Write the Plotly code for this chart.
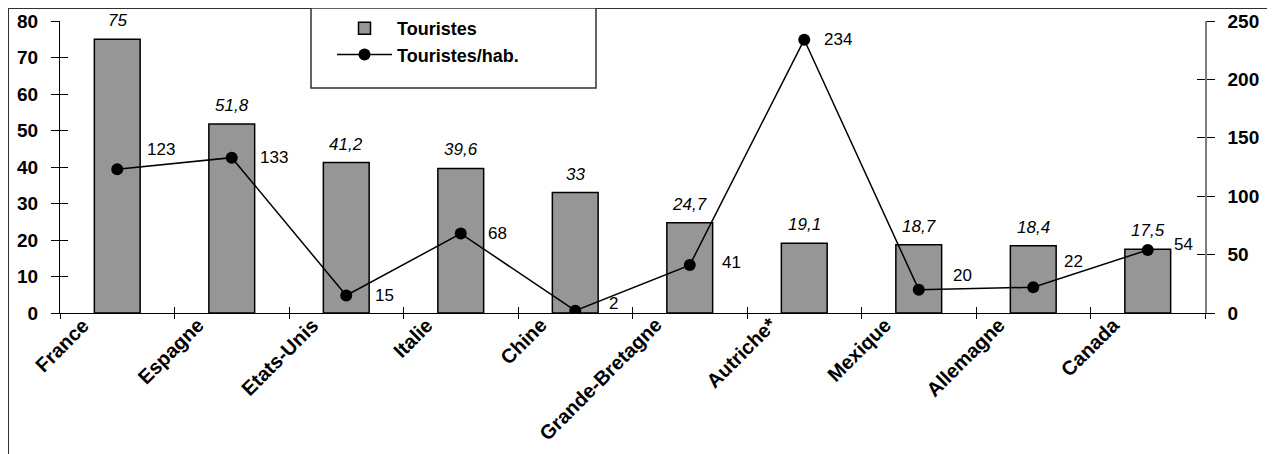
import plotly.graph_objects as go

# ---------------- data ----------------
countries = ["France", "Espagne", "Etats-Unis", "Italie", "Chine",
             "Grande-Bretagne", "Autriche*", "Mexique", "Allemagne", "Canada"]
touristes = [75, 51.8, 41.2, 39.6, 33, 24.7, 19.1, 18.7, 18.4, 17.5]
touristes_hab = [123, 133, 15, 68, 2, 41, 234, 20, 22, 54]
left_ticks = [0, 10, 20, 30, 40, 50, 60, 70, 80]
right_ticks = [0, 50, 100, 150, 200, 250]

# ---------------- styling (label offsets in px) ----------------
label_dx = [30, 28, 29, 27, 34, 32, 20, 34, 31, 26]
label_dy = [-20, 0, 0, 0, -7, -3, 0, -14, -26, -5]

FONT = "Arial, Liberation Sans, sans-serif"
OFF = 8                      # page body margin in the browser
W, H = 1275 - OFF, 454 - OFF
ML, MR = 60 - OFF, 70
MT = 21 - OFF
MB = H - (313 - OFF)
PW = W - ML - MR
PH = H - MT - MB


def px_x(p):
    """screen px -> paper x"""
    return (p - OFF - ML) / PW


def px_y(p):
    """screen px -> paper y"""
    return 1 - (p - OFF - MT) / PH


def fmt(v):
    return f"{v:g}".replace(".", ",")


fig = go.Figure()
fig.add_trace(go.Bar(
    x=countries, y=touristes, name="Touristes", width=0.4,
    marker=dict(color="#969696", line=dict(color="black", width=1.5)),
    yaxis="y",
))
fig.add_trace(go.Scatter(
    x=countries, y=touristes_hab, name="Touristes/hab.", yaxis="y2",
    mode="lines+markers",
    line=dict(color="black", width=1.5),
    marker=dict(color="black", size=12),
))
# invisible helper traces so the overlay axes (inner half of crossing ticks) are drawn
fig.add_trace(go.Scatter(x=countries, y=touristes, xaxis="x2", yaxis="y3",
                         mode="none", showlegend=False, hoverinfo="skip"))
fig.add_trace(go.Scatter(x=countries, y=touristes_hab, xaxis="x2", yaxis="y4",
                         mode="none", showlegend=False, hoverinfo="skip"))

annotations = []
# bar value labels
for c, v in zip(countries, touristes):
    annotations.append(dict(
        x=c, y=v, xref="x", yref="y", text=fmt(v), showarrow=False,
        xanchor="center", yanchor="bottom", yshift=7,
        font=dict(family=FONT, size=17, color="black", style="italic"),
    ))
# line value labels
for c, v, dx, dy in zip(countries, touristes_hab, label_dx, label_dy):
    annotations.append(dict(
        x=c, y=v, xref="x", yref="y2", text=fmt(v), showarrow=False,
        xanchor="left", yanchor="middle", xshift=dx - 2, yshift=-dy,
        font=dict(family=FONT, size=17, color="black"),
    ))
# category labels (rotated)
for c in countries:
    annotations.append(dict(
        x=c, y=0, xref="x", yref="paper", text=c, showarrow=False,
        textangle=-45, xanchor="right", yanchor="top", xshift=-21, yshift=2,
        font=dict(family=FONT, size=20, color="black", weight="bold"),
    ))

shapes = [
    # outer frame
    dict(type="rect", xref="paper", yref="paper",
         x0=px_x(8), x1=px_x(1269), y0=px_y(470), y1=px_y(8),
         line=dict(color="#303030", width=2), fillcolor="rgba(0,0,0,0)", layer="below"),
    # legend frame
    dict(type="rect", xref="paper", yref="paper",
         x0=px_x(311), x1=px_x(596), y0=px_y(88), y1=px_y(8),
         line=dict(color="#303030", width=1.5), fillcolor="white", layer="below"),
]

tickfont = dict(family=FONT, size=19, color="black", weight="bold")
noaxis = dict(showticklabels=False, showline=False, showgrid=False, zeroline=False)

fig.update_layout(
    width=W, height=H,
    margin=dict(l=ML, r=MR, t=MT, b=MB, pad=0, autoexpand=False),
    paper_bgcolor="white", plot_bgcolor="rgba(0,0,0,0)",
    showlegend=True,
    legend=dict(
        x=px_x(332), y=px_y(10), xanchor="left", yanchor="top",
        bgcolor="rgba(0,0,0,0)", borderwidth=0,
        font=dict(family=FONT, size=18, color="black", weight="bold"),
        itemwidth=55, traceorder="grouped", tracegroupgap=12,
    ),
    xaxis=dict(
        type="category", categoryorder="array", categoryarray=countries,
        range=[-0.5, len(countries) - 0.5],
        tickson="boundaries", ticks="outside", ticklen=5, tickcolor="black",
        showticklabels=False, showline=True, linecolor="black", linewidth=1.2,
        showgrid=False, zeroline=False,
    ),
    xaxis2=dict(
        overlaying="x", anchor="y", side="bottom",
        type="category", categoryorder="array", categoryarray=countries,
        range=[-0.5, len(countries) - 0.5], tickson="boundaries",
        ticks="inside", ticklen=6, tickcolor="black", **noaxis,
    ),
    yaxis=dict(
        range=[0, 80], tickvals=left_ticks, ticks="outside", ticklen=8,
        tickcolor="black", showline=True, linecolor="black", linewidth=1.2,
        showgrid=False, zeroline=False, tickfont=tickfont, ticklabelstandoff=9,
    ),
    yaxis2=dict(
        overlaying="y", side="right", anchor="x",
        range=[0, 250], tickvals=right_ticks, ticks="outside", ticklen=8,
        tickcolor="black", showline=True, linecolor="#808080", linewidth=1.5,
        showgrid=False, zeroline=False, tickfont=tickfont, ticklabelstandoff=9,
    ),
    yaxis3=dict(
        overlaying="y", side="left", anchor="x",
        range=[0, 80], tickvals=left_ticks, ticks="inside", ticklen=8,
        tickcolor="black", **noaxis,
    ),
    yaxis4=dict(
        overlaying="y", side="right", anchor="x",
        range=[0, 250], tickvals=right_ticks, ticks="inside", ticklen=8,
        tickcolor="black", **noaxis,
    ),
    annotations=annotations,
    shapes=shapes,
)

fig.write_html("out.html")
